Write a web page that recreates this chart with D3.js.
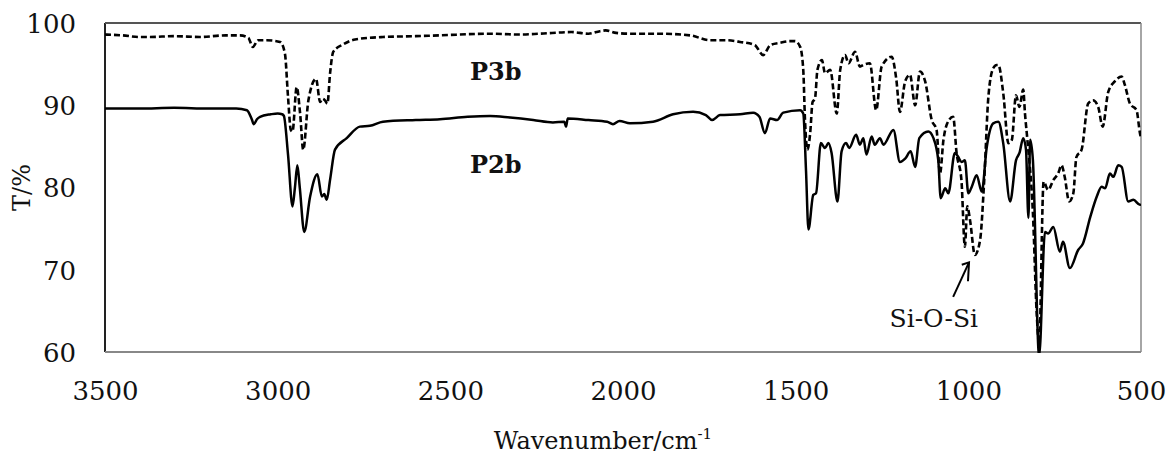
<!DOCTYPE html>
<html>
<head>
<meta charset="utf-8">
<script src="https://cdn.jsdelivr.net/npm/d3@7"></script>
<style>
    body { margin: 0; background: #fff; }
    text { font-family: "DejaVu Serif", serif; fill: #111; }
</style>
</head>
<body>
<div id="chart"></div>
<script>
// P2b (solid) - wavenumber / transmittance
const p2bWave = [3500, 3400, 3300, 3200, 3120, 3089, 3075, 3069, 3060, 3051, 3020, 3000, 2987, 2982, 2970, 2957, 2950, 2943, 2936, 2923,
    2906, 2885, 2872, 2865, 2858, 2848, 2834, 2800, 2762, 2733, 2695, 2600, 2530, 2450, 2385, 2327, 2260, 2203, 2170, 2165,
    2160, 2100, 2046, 2029, 2010, 1980, 1913, 1855, 1797, 1760, 1742, 1719, 1661, 1623, 1605, 1589, 1574, 1554, 1536, 1487,
    1478, 1470, 1463, 1449, 1441, 1427, 1415, 1405, 1396, 1379, 1367, 1354, 1345, 1325, 1314, 1304, 1295, 1280, 1271, 1256,
    1246, 1217, 1198, 1183, 1167, 1154, 1142, 1116, 1101, 1087, 1080, 1067, 1058, 1039, 1029, 1020, 1010, 1000, 990, 976,
    961, 947, 928, 913, 899, 879, 862, 852, 841, 833, 826, 821, 813, 795, 778, 769, 754, 735, 726, 706,
    682, 668, 647, 628, 614, 604, 590, 580, 566, 556, 537, 522, 503, 500];
const p2bT = [89.6, 89.6, 89.7, 89.6, 89.6, 89.4, 88.3, 87.7, 88.3, 88.6, 88.9, 89.0, 88.9, 88.7, 84.0, 77.7, 80.0, 82.7, 80.0, 74.6,
    78.9, 81.6, 78.9, 79.2, 78.5, 81.0, 84.6, 86.0, 87.4, 87.5, 88.0, 88.2, 88.3, 88.6, 88.7, 88.5, 88.2, 87.9, 88.0, 87.4,
    88.4, 88.2, 88.0, 87.7, 88.1, 87.8, 88.0, 88.9, 89.2, 88.8, 88.2, 88.8, 88.9, 89.1, 88.6, 86.6, 88.4, 88.2, 89.1, 89.4,
    89.0, 82.0, 74.9, 79.1, 79.3, 85.4, 84.8, 85.4, 84.2, 78.3, 84.4, 85.4, 84.8, 86.4, 85.2, 86.0, 84.0, 86.2, 85.2, 86.0,
    85.2, 87.0, 83.1, 83.5, 84.4, 82.5, 86.0, 86.8, 86.0, 83.3, 78.7, 79.9, 79.3, 84.2, 83.7, 83.1, 83.3, 79.3, 80.1, 81.5,
    79.5, 84.8, 87.8, 88.0, 85.4, 78.3, 83.3, 84.2, 86.0, 84.6, 76.3, 85.8, 83.3, 59.5, 74.6, 74.4, 75.2, 72.2, 73.4, 70.2,
    72.4, 73.2, 76.4, 78.9, 80.1, 79.9, 81.7, 81.3, 82.7, 82.5, 78.3, 78.5, 77.9, 78.0];

// P3b (dashed)
const p3bWave = [3500, 3450, 3400, 3370, 3300, 3225, 3150, 3109, 3085, 3072, 3057, 3032, 2993, 2979, 2970, 2962, 2957, 2945, 2935, 2926,
    2911, 2889, 2877, 2870, 2863, 2856, 2848, 2839, 2810, 2776, 2695, 2600, 2530, 2385, 2300, 2240, 2150, 2100, 2067, 2050,
    2020, 1980, 1900, 1806, 1748, 1700, 1661, 1618, 1594, 1574, 1545, 1516, 1502, 1487, 1478, 1473, 1466, 1458, 1451, 1444,
    1437, 1424, 1415, 1400, 1381, 1371, 1357, 1347, 1328, 1314, 1304, 1285, 1267, 1251, 1222, 1209, 1198, 1183, 1169, 1154,
    1140, 1125, 1106, 1092, 1082, 1072, 1061, 1044, 1034, 1020, 1010, 1003, 995, 981, 966, 954, 942, 928, 918, 913,
    899, 884, 874, 862, 852, 841, 836, 829, 813, 802, 795, 782, 769, 754, 740, 730, 721, 708, 696, 687,
    672, 653, 639, 624, 611, 595, 576, 556, 547, 532, 513, 503, 500];
const p3bT = [98.6, 98.5, 98.3, 98.3, 98.4, 98.3, 98.5, 98.5, 98.2, 97.1, 97.9, 97.9, 97.7, 96.3, 91.0, 87.0, 86.8, 92.2, 89.0, 84.6,
    90.6, 93.2, 90.4, 90.8, 90.6, 90.2, 94.0, 96.5, 97.4, 98.0, 98.3, 98.4, 98.5, 98.7, 98.6, 98.7, 98.9, 98.7, 99.0, 99.1,
    98.8, 98.7, 98.7, 98.5, 97.9, 97.9, 97.7, 97.3, 96.1, 97.3, 97.6, 97.8, 97.8, 97.1, 94.3, 88.2, 84.6, 86.6, 90.4, 90.8,
    94.3, 95.5, 93.9, 94.3, 89.0, 94.3, 96.1, 95.1, 96.5, 94.7, 94.9, 95.1, 89.4, 94.7, 95.9, 93.3, 89.2, 92.9, 93.7, 90.0,
    94.1, 92.9, 88.2, 87.0, 81.7, 85.8, 87.8, 88.6, 84.2, 80.9, 72.8, 77.7, 76.0, 71.8, 73.6, 80.9, 91.0, 94.5, 94.9, 94.9,
    91.5, 85.4, 85.8, 91.2, 89.8, 91.9, 89.0, 85.8, 76.9, 64.7, 61.0, 80.7, 79.7, 80.9, 81.7, 82.7, 81.3, 78.3, 79.3, 83.7,
    84.6, 90.2, 90.6, 89.8, 87.4, 91.6, 92.9, 93.5, 92.5, 90.2, 89.4, 86.6, 86.0];

const xTicks = [3500, 3000, 2500, 2000, 1500, 1000, 500];
const yTicks = [60, 70, 80, 90, 100];

const width = 1167;
const height = 454;
const margin = { top: 23, right: 26, bottom: 102, left: 105 };

const svg = d3.select('#chart')
    .append('svg')
    .attr('width', width)
    .attr('height', height);

const x = d3.scaleLinear().domain([3500, 500]).range([margin.left, width - margin.right]);
const y = d3.scaleLinear().domain([60, 100]).range([height - margin.bottom, margin.top]);

svg.append('defs').append('clipPath')
    .attr('id', 'plotClip')
    .append('rect')
    .attr('x', margin.left)
    .attr('y', margin.top)
    .attr('width', x(500) - x(3500))
    .attr('height', y(60) - y(100) + 1);

// axes, labels only
const xAxis = svg.append('g')
    .attr('transform', `translate(0,${y(60) + 27})`)
    .call(d3.axisBottom(x).tickValues(xTicks).tickSize(0).tickFormat(d3.format('d')));
xAxis.select('.domain').remove();
xAxis.selectAll('text').attr('font-size', 26).attr('font-family', '"DejaVu Serif", serif').attr('fill', '#111');

const yAxis = svg.append('g')
    .attr('transform', `translate(${margin.left - 26},0)`)
    .call(d3.axisLeft(y).tickValues(yTicks).tickSize(0));
yAxis.select('.domain').remove();
yAxis.selectAll('text').attr('font-size', 26).attr('font-family', '"DejaVu Serif", serif').attr('fill', '#111').attr('dy', '0.36em');

// frame
svg.append('line').attr('x1', x(3500)).attr('x2', x(3500)).attr('y1', y(100)).attr('y2', y(60))
    .attr('stroke', '#222').attr('stroke-width', 2);
svg.append('line').attr('x1', x(3500)).attr('x2', x(500)).attr('y1', y(100)).attr('y2', y(100))
    .attr('stroke', '#555').attr('stroke-width', 2);
svg.append('line').attr('x1', x(3500)).attr('x2', x(500)).attr('y1', y(60)).attr('y2', y(60))
    .attr('stroke', '#888').attr('stroke-width', 2);
svg.append('line').attr('x1', x(500)).attr('x2', x(500)).attr('y1', y(100)).attr('y2', y(60))
    .attr('stroke', '#888').attr('stroke-width', 1.5);

const line = d3.line()
    .x(d => x(d[0]))
    .y(d => y(d[1]))
    .curve(d3.curveMonotoneX);

const plot = svg.append('g').attr('clip-path', 'url(#plotClip)');

plot.append('path')
    .datum(d3.zip(p3bWave, p3bT))
    .attr('fill', 'none')
    .attr('stroke', '#000')
    .attr('stroke-width', 2.6)
    .attr('stroke-dasharray', '6,3')
    .attr('d', line);

plot.append('path')
    .datum(d3.zip(p2bWave, p2bT))
    .attr('fill', 'none')
    .attr('stroke', '#000')
    .attr('stroke-width', 2.5)
    .attr('d', line);

// series labels
svg.append('text').attr('x', x(2443)).attr('y', y(93.1))
    .attr('font-size', 24).attr('font-weight', 'bold').text('P3b');
svg.append('text').attr('x', x(2443)).attr('y', y(81.8))
    .attr('font-size', 24).attr('font-weight', 'bold').text('P2b');

// Si-O-Si annotation
svg.append('line')
    .attr('x1', x(1044)).attr('y1', y(66.7))
    .attr('x2', x(998)).attr('y2', y(70.9))
    .attr('stroke', '#000').attr('stroke-width', 2);
svg.append('path')
    .attr('d', `M${x(1019)},${y(70.6)} L${x(998)},${y(70.9)} L${x(1001)},${y(68.6)}`)
    .attr('fill', 'none').attr('stroke', '#000').attr('stroke-width', 2);
svg.append('text').attr('x', x(1100)).attr('y', y(63.0))
    .attr('text-anchor', 'middle').attr('font-size', 25).text('Si-O-Si');

// axis titles
const xt = svg.append('text')
    .attr('x', 603).attr('y', 449)
    .attr('text-anchor', 'middle').attr('font-size', 24);
xt.append('tspan').text('Wavenumber/cm');
xt.append('tspan').attr('font-size', 15).attr('dy', -10).text('-1');

svg.append('text')
    .attr('transform', `translate(30,${(y(60) + y(100)) / 2}) rotate(-90)`)
    .attr('text-anchor', 'middle').attr('font-size', 24).text('T/%');
</script>
</body>
</html>
